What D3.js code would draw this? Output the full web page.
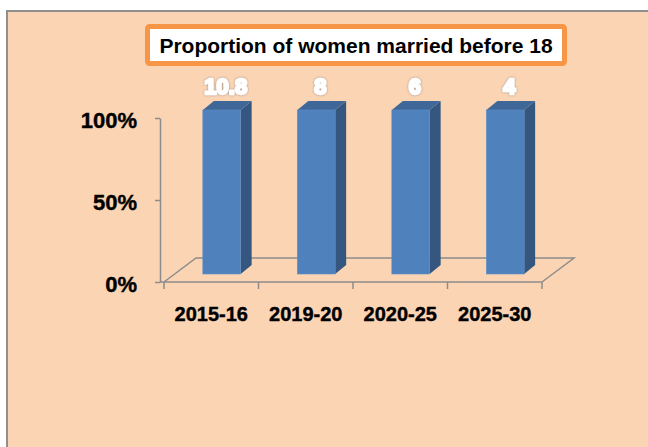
<!DOCTYPE html>
<html>
<head>
<meta charset="utf-8">
<script src="https://cdn.jsdelivr.net/npm/d3@7"></script>
<style>
  body { margin: 0; background: #fff; }
  svg { display: block; font-family: "Liberation Sans", Arial, sans-serif; }
</style>
</head>
<body>
<svg class="chart"></svg>
<script>
// chart data
var periods = ["2015-16", "2019-20", "2020-25", "2025-30"];
var shareValues = [100, 100, 100, 100];   // 100% stacked column height
var labelValues = ["10.8", "8", "6", "4"]; // data labels shown on top
var yTickValues = [0, 50, 100];
var titleText = "Proportion of women married before 18";

function show() {
    'use strict';

    var W = 648, H = 447;
    var svg = d3.select(".chart").attr("width", W).attr("height", H);

    // soft glow for the data labels
    var f = svg.append("defs").append("filter")
        .attr("id", "glow")
        .attr("x", "-20%").attr("y", "-20%")
        .attr("width", "140%").attr("height", "140%");
    f.append("feGaussianBlur").attr("in", "SourceAlpha").attr("stdDeviation", 1.2).attr("result", "b");
    f.append("feFlood").attr("flood-color", "#6f6f6f").attr("flood-opacity", 0.7);
    f.append("feComposite").attr("in2", "b").attr("operator", "in").attr("result", "s");
    var fm = f.append("feMerge");
    fm.append("feMergeNode").attr("in", "s");
    fm.append("feMergeNode").attr("in", "SourceGraphic");

    // chart area + border
    svg.append("rect")
        .attr("x", 7).attr("y", 11)
        .attr("width", 700).attr("height", 500)
        .attr("fill", "#fbd4b4")
        .attr("stroke", "#8f8f8f")
        .attr("stroke-width", 2);

    // title box
    svg.append("rect")
        .attr("x", 147.5).attr("y", 26.5)
        .attr("width", 417).attr("height", 37)
        .attr("rx", 2)
        .attr("fill", "#fff")
        .attr("stroke", "#f79646")
        .attr("stroke-width", 5);
    svg.append("text")
        .attr("x", 356).attr("y", 53)
        .attr("text-anchor", "middle")
        .attr("font-size", 21)
        .attr("font-weight", "bold")
        .attr("fill", "#000")
        .text(titleText);

    // scales
    var x = d3.scaleBand().domain(periods).range([164, 542]);
    var y = d3.scaleLinear().domain([0, 100]).range([282, 118]);

    // 3d settings
    var floorDx = 32, floorDy = -24;
    var offDx = 10.5, offDy = -8;      // front of bars sits 1/3 into the floor
    var barDx = 11, barDy = -9;        // bar depth
    var barW = x.bandwidth() * 0.4;
    var lineCol = "#8c8c8c";

    var x0 = x.range()[0], x1 = x.range()[1], yb = y(0);

    // floor
    svg.append("path")
        .attr("d", "M" + x0 + "," + yb +
                   "L" + (x0 + floorDx) + "," + (yb + floorDy) +
                   "L" + (x1 + floorDx) + "," + (yb + floorDy) +
                   "L" + x1 + "," + yb)
        .attr("fill", "none")
        .attr("stroke", lineCol)
        .attr("stroke-width", 1.5);

    // x axis line + category boundary ticks
    svg.append("line")
        .attr("x1", x0 - 4).attr("x2", x1)
        .attr("y1", yb).attr("y2", yb)
        .attr("stroke", lineCol).attr("stroke-width", 1.5);
    var bounds = periods.map(function (p) { return x(p); }).concat([x1]);
    svg.selectAll(".xtick").data(bounds)
        .enter().append("line")
        .attr("class", "xtick")
        .attr("x1", function (d) { return d; })
        .attr("x2", function (d) { return d; })
        .attr("y1", yb).attr("y2", yb + 7)
        .attr("stroke", lineCol).attr("stroke-width", 1.5);

    // x labels
    var xAxis = d3.axisBottom(x).tickSize(0).tickPadding(25);
    var gx = svg.append("g")
        .attr("transform", "translate(0," + yb + ")")
        .call(xAxis);
    gx.select(".domain").remove();
    gx.selectAll("text")
        .attr("font-size", 20)
        .attr("font-weight", "bold")
        .attr("font-family", "Liberation Sans, Arial, sans-serif")
        .attr("fill", "#000")
        .attr("stroke", "#000")
        .attr("stroke-width", 0.4);

    // y axis
    var yAxis = d3.axisLeft(y)
        .tickValues(yTickValues)
        .tickFormat(function (d) { return d + "%"; })
        .tickSize(5)
        .tickSizeOuter(0)
        .tickPadding(18);
    var gy = svg.append("g")
        .attr("transform", "translate(" + (x0 - 4) + ",0)")
        .call(yAxis);
    gy.select(".domain").attr("stroke", lineCol).attr("stroke-width", 1.5);
    gy.selectAll(".tick line").attr("stroke", lineCol).attr("stroke-width", 1.5);
    gy.selectAll("text")
        .attr("font-size", 22)
        .attr("font-weight", "bold")
        .attr("font-family", "Liberation Sans, Arial, sans-serif")
        .attr("dy", "0.45em")
        .attr("fill", "#000")
        .attr("stroke", "#000")
        .attr("stroke-width", 0.4);

    // bars
    var data = periods.map(function (p, i) {
        return { period: p, value: shareValues[i], label: labelValues[i] };
    });

    var bars = svg.selectAll(".bar").data(data)
        .enter().append("g")
        .attr("class", "bar");

    function fx(d) { return x(d.period) + (x.bandwidth() - barW) / 2 + offDx; }
    function fb() { return y(0) + offDy; }
    function ft(d) { return y(d.value) + offDy; }

    // side face
    bars.append("path")
        .attr("d", function (d) {
            var r = fx(d) + barW;
            return "M" + r + "," + ft(d) +
                   "L" + (r + barDx) + "," + (ft(d) + barDy) +
                   "L" + (r + barDx) + "," + (fb() + barDy) +
                   "L" + r + "," + fb() + "Z";
        })
        .attr("fill", "#34567f");

    // top face
    bars.append("path")
        .attr("d", function (d) {
            var l = fx(d), t = ft(d);
            return "M" + l + "," + t +
                   "L" + (l + barDx) + "," + (t + barDy) +
                   "L" + (l + barW + barDx) + "," + (t + barDy) +
                   "L" + (l + barW) + "," + t + "Z";
        })
        .attr("fill", "#3f6797");

    // front face
    bars.append("rect")
        .attr("x", fx)
        .attr("y", ft)
        .attr("width", barW)
        .attr("height", function (d) { return fb() - ft(d); })
        .attr("fill", "#4f81bd")
        .attr("stroke", "#5b8cc6")
        .attr("stroke-width", 0.6);

    // data labels: white with grey outline
    bars.append("text")
        .attr("x", function (d) { return fx(d) + barW / 2 + 4; })
        .attr("y", function (d) { return ft(d) + barDy - 7; })
        .attr("text-anchor", "middle")
        .attr("font-size", 22)
        .attr("font-weight", "bold")
        .attr("fill", "#fff")
        .attr("stroke", "#fff")
        .attr("stroke-width", 2.5)
        .attr("stroke-linejoin", "round")
        .attr("paint-order", "stroke")
        .attr("filter", "url(#glow)")
        .text(function (d) { return d.label; });
}

show();
</script>
</body>
</html>
